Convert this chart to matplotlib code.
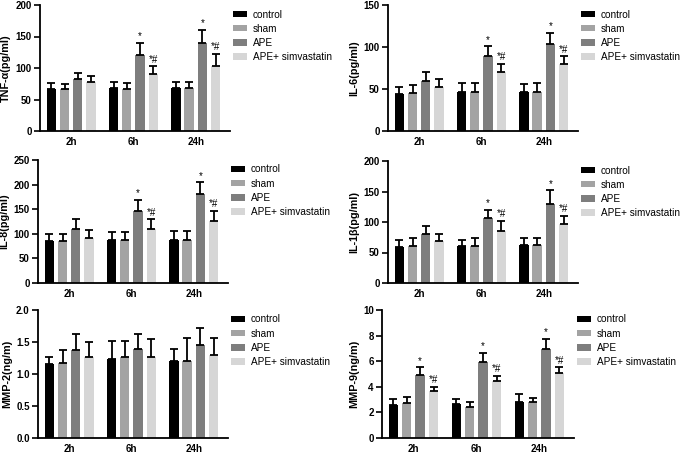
import matplotlib
matplotlib.use("Agg")
import matplotlib.pyplot as plt
import numpy as np

plt.rcParams['font.family'] = ['Liberation Sans', 'DejaVu Sans']

timepoints = ["2h", "6h", "24h"]
groups = ["control", "sham", "APE", "APE+ simvastatin"]
colors = ["#000000", "#a3a3a3", "#7e7e7e", "#d6d6d6"]

# values [group][time], error-bar tops [group][time]
tnf_mean = [[67, 68, 69], [66, 67, 68], [82, 120, 140], [77, 91, 103]]
tnf_top = [[76, 77, 78], [75, 76, 77], [92, 140, 161], [87, 103, 123]]
il6_mean = [[44, 46.5, 46], [45, 47, 46], [59, 89, 104], [52, 70, 80]]
il6_top = [[52, 57, 56], [55, 57, 57], [70, 101, 117], [62, 80, 89]]
il8_mean = [[86, 87, 88], [86, 88, 88], [109, 147, 181], [92, 109, 126]]
il8_top = [[99, 103, 105], [99, 103, 106], [130, 169, 205], [108, 130, 147]]
il1b_mean = [[59, 61, 62], [61, 61, 63], [80, 107, 129], [69, 86, 96]]
il1b_top = [[71, 71, 73], [73, 73, 74], [93, 120, 152], [80, 102, 110]]
mmp2_mean = [[1.15, 1.24, 1.20], [1.17, 1.27, 1.20], [1.38, 1.39, 1.45], [1.27, 1.26, 1.30]]
mmp2_top = [[1.27, 1.51, 1.39], [1.38, 1.52, 1.57], [1.63, 1.63, 1.72], [1.50, 1.54, 1.57]]
mmp9_mean = [[2.58, 2.66, 2.79], [2.72, 2.43, 2.85], [4.91, 5.93, 6.95], [3.68, 4.46, 5.07]]
mmp9_top = [[3.03, 3.05, 3.47], [3.21, 2.82, 3.16], [5.51, 6.66, 7.73], [4.02, 4.88, 5.54]]

# significance marks [group][time]
sig_cyto = [["", "", ""], ["", "", ""], ["", "*", "*"], ["", "*#", "*#"]]
sig_mmp2 = [["", "", ""], ["", "", ""], ["", "", ""], ["", "", ""]]
sig_mmp9 = [["", "", ""], ["", "", ""], ["*", "*", "*"], ["*#", "*#", "*#"]]

panels = [
    dict(mean=tnf_mean, top=tnf_top, sig=sig_cyto, ylabel="TNF-α(pg/ml)", ymax=200, ticks=[0, 50, 100, 150, 200], fmt="{:.0f}", box=(40, 5, 190, 126)),
    dict(mean=il6_mean, top=il6_top, sig=sig_cyto, ylabel="IL-6(pg/ml)", ymax=150, ticks=[0, 50, 100, 150], fmt="{:.0f}", box=(388, 5, 190, 126)),
    dict(mean=il8_mean, top=il8_top, sig=sig_cyto, ylabel="IL-8(pg/ml)", ymax=250, ticks=[0, 50, 100, 150, 200, 250], fmt="{:.0f}", box=(38, 160, 190, 123)),
    dict(mean=il1b_mean, top=il1b_top, sig=sig_cyto, ylabel="IL-1β(pg/ml)", ymax=200, ticks=[0, 50, 100, 150, 200], fmt="{:.0f}", box=(388, 161, 190, 122)),
    dict(mean=mmp2_mean, top=mmp2_top, sig=sig_mmp2, ylabel="MMP-2(ng/m)", ymax=2.0, ticks=[0, 0.5, 1.0, 1.5, 2.0], fmt="{:.1f}", box=(38, 310, 190, 128)),
    dict(mean=mmp9_mean, top=mmp9_top, sig=sig_mmp9, ylabel="MMP-9(ng/m)", ymax=10, ticks=[0, 2, 4, 6, 8, 10], fmt="{:.0f}", box=(382, 310, 192, 128)),
]

W, H = 683, 454
fig = plt.figure(figsize=(W / 100, H / 100), dpi=100)

x = np.arange(len(timepoints))
step = 0.213
bw = 0.15
offsets = (np.arange(4) - 1.5) * step

for p in panels:
    l, t, w, h = p["box"]
    ax = fig.add_axes([l / W, 1 - (t + h) / H, w / W, h / H])
    for gi in range(4):
        m = np.array(p["mean"][gi])
        tp = np.array(p["top"][gi])
        xs = x + offsets[gi]
        ax.bar(xs, m, width=bw, color=colors[gi], label=groups[gi], zorder=2)
        ax.errorbar(xs, m, yerr=[np.zeros_like(m), tp - m], fmt="none", ecolor="black",
                    elinewidth=1.3, capsize=2.6, capthick=1.3, zorder=3)
        for ti in range(3):
            s = p["sig"][gi][ti]
            if s:
                ax.text(xs[ti], tp[ti] + p["ymax"] * 0.012, s, ha="center", va="bottom",
                        fontsize=7, zorder=4)
    ax.set_xlim(-0.5, 2.55)
    ax.set_ylim(0, p["ymax"])
    ax.set_yticks(p["ticks"])
    ax.set_yticklabels([p["fmt"].format(v) for v in p["ticks"]], fontsize=7, fontweight="bold")
    ax.set_xticks(x)
    ax.set_xticklabels(timepoints, fontsize=7, fontweight="bold")
    ax.tick_params(axis="x", length=0, pad=4)
    ax.tick_params(axis="y", length=4, width=1.2, pad=2)
    for sp in ["top", "right"]:
        ax.spines[sp].set_visible(False)
    for sp in ["left", "bottom"]:
        ax.spines[sp].set_linewidth(1.3)
    ax.set_ylabel(p["ylabel"], fontsize=7.8, fontweight="bold", labelpad=3)
    ax.legend(loc="upper left", bbox_to_anchor=(0.99, 1.0), frameon=False, fontsize=7.2,
              handlelength=1.45, handleheight=0.6, labelspacing=0.42, borderaxespad=0.15,
              borderpad=0.3, handletextpad=0.6)

fig.savefig("out.png", dpi=100)
